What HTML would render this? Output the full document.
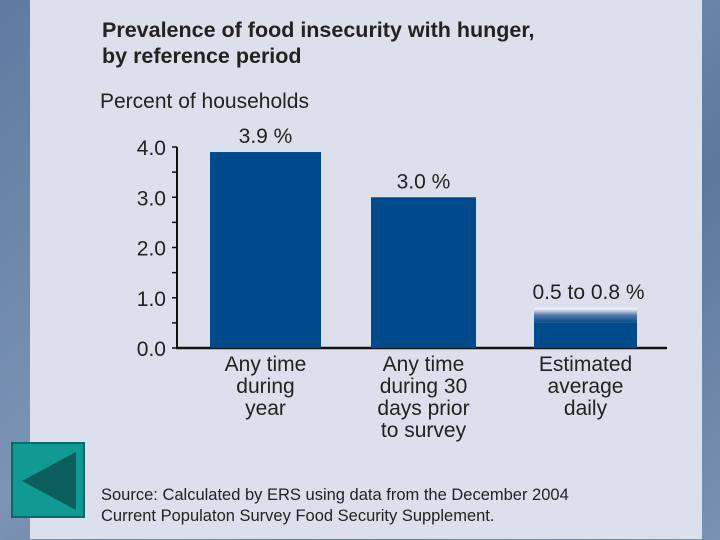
<!DOCTYPE html>
<html><head><meta charset="utf-8"><style>
body{margin:0;width:720px;height:540px;overflow:hidden;background:#6a84a8;font-family:"Liberation Sans",sans-serif}
#bg{position:absolute;left:0;top:0;width:720px;height:540px;background:linear-gradient(135deg,#5f7aa0,#7b94b6 40%,#5c779c 70%,#7a92b3)}
#panel{position:absolute;left:30px;top:0;width:672px;height:539px;background:#dce0ec}
svg{position:absolute;left:0;top:0}
</style></head><body>
<div id="bg"></div>
<div id="panel"></div>
<svg width="720" height="540">
<defs><linearGradient id="fade" x1="0" y1="0" x2="0" y2="1">
<stop offset="0" stop-color="#ffffff"/><stop offset="0.2" stop-color="#c5cde0"/><stop offset="0.5" stop-color="#5577aa"/><stop offset="1" stop-color="#004a8c"/></linearGradient></defs>
<text x="102" y="37" font-size="21.5" font-weight="bold" fill="#222">Prevalence of food insecurity with hunger,</text>
<text x="102" y="63" font-size="21.5" font-weight="bold" fill="#222">by reference period</text>
<text x="100" y="108" font-size="21" fill="#222">Percent of households</text>
<g id="axes"></g><g id="bars"></g>
<g font-size="16.5" fill="#222">
<text x="101" y="500">Source: Calculated by ERS using data from the December 2004</text>
<text x="101" y="521">Current Populaton Survey Food Security Supplement.</text></g>
<g>
<rect x="12" y="443" width="72" height="74" fill="#0f9a94" stroke="#0a6b66" stroke-width="2"/>
<polygon points="76,452 76,510 22,481" fill="#0b5e5c"/></g>
</svg>
<script>
const categories=[["Any time","during","year"],["Any time","during 30","days prior","to survey"],["Estimated","average","daily"]];
const values=[3.9,3.0,0.8];
const lowValues=[3.9,3.0,0.5];
const valueLabels=["3.9 %","3.0 %","0.5 to 0.8 %"];
const yTicks=[0,1,2,3,4];
const yTickLabels=["0.0","1.0","2.0","3.0","4.0"];
const NS="http://www.w3.org/2000/svg";
const y=v=>348-v*50.25;
const bx=[[210,321],[371,476],[534,637]];
function mk(t,a,p){const e=document.createElementNS(NS,t);for(const k in a)e.setAttribute(k,a[k]);p.appendChild(e);return e;}
const ax=document.getElementById('axes'),bg=document.getElementById('bars');
let l=mk('line',{x1:177,y1:y(4),x2:177,y2:348,stroke:'#111','stroke-width':2},ax);


l=mk('line',{x1:176,y1:348,x2:667,y2:348,stroke:'#111','stroke-width':2.5},ax);


for(let v=0;v<=4;v+=0.5){const t=mk('line',{x1:172,y1:y(v),x2:177,y2:y(v),stroke:'#111','stroke-width':1.5},ax);

}
yTicks.forEach((v,i)=>{const t=mk('text',{x:166,y:y(v)+8,'font-size':21,'text-anchor':'end',fill:'#222'},ax);t.textContent=yTickLabels[i];

});
values.forEach((v,i)=>{const [a,b]=bx[i];const cx=(a+b)/2;
if(lowValues[i]<v){const f=mk('rect',{x:a,y:y(v),width:b-a,height:y(lowValues[i])-y(v),fill:'url(#fade)'},bg);

}
const r=mk('rect',{x:a,y:y(lowValues[i]),width:b-a,height:348-y(lowValues[i]),fill:'#004a8c'},bg);


const t=mk('text',{x:cx+(i==2?3:0),y:y(v)-9,'font-size':21,'text-anchor':'middle',fill:'#222'},bg);t.textContent=valueLabels[i];


categories[i].forEach((s,j)=>{const c=mk('text',{x:cx,y:371+j*22,'font-size':21,'text-anchor':'middle',fill:'#222'},bg);c.textContent=s;

});
});
</script>
</body></html>
